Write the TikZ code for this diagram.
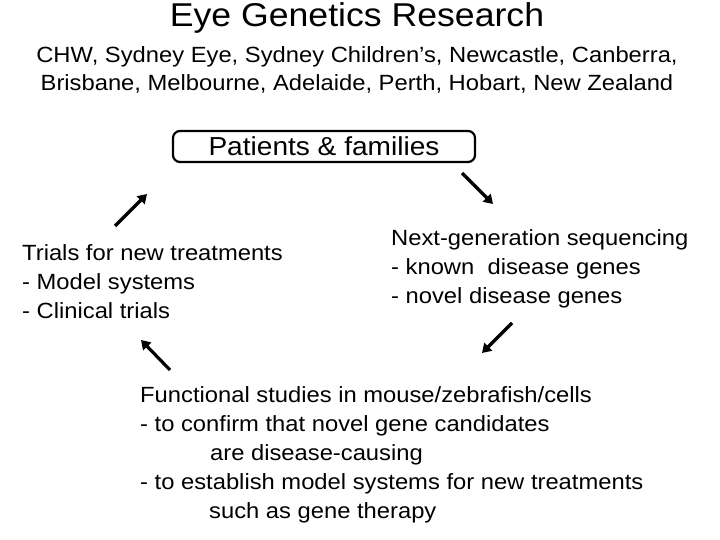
\documentclass[tikz,border=0pt]{standalone}
\usepackage{fontspec}
\setmainfont{Liberation Sans}[FakeStretch=1.08]
\usetikzlibrary{positioning, arrows.meta}

\begin{document}
\begin{tikzpicture}[x=1pt,y=-1pt,
  body/.style={anchor=base west,align=left,inner sep=0pt,font=\fontsize{22}{28.8}\selectfont},
  cycle/.style={line width=3.2pt,-{Triangle[length=9pt,width=11pt]}},
  box/.style={draw,line width=2.2pt,rounded corners=7pt,minimum width=302pt,minimum height=31pt,inner sep=0pt}]

\useasboundingbox (0,0) rectangle (720,540);

% Title (base of the last line)
\node[anchor=base,inner sep=0pt,font=\fontsize{33}{36}\selectfont] (title) at (357,27) {Eye Genetics Research};
\node[anchor=base,align=center,inner sep=0pt,font=\fontsize{22}{28}\selectfont] (centres) at (357,91) {CHW, Sydney Eye, Sydney Children’s, Newcastle, Canberra,\\Brisbane, Melbourne, Adelaide, Perth, Hobart, New Zealand};

% Cycle of steps
\node[box,font=\fontsize{26}{30}\selectfont] (patients) at (324,146.5) {Patients \& families};
\node[body] (sequencing) at (391,303) {Next-generation sequencing\\- known~ disease genes\\- novel disease genes};
\node[body] (functional) at (140,518) {Functional studies in mouse/zebrafish/cells\\- to confirm that novel gene candidates\\\hspace*{70pt}are disease-causing\\- to establish model systems for new treatments\\\hspace*{69pt}such as gene therapy};
\node[body] (trials) at (22,318) {Trials for new treatments\\- Model systems\\- Clinical trials};

% Arrows
\coordinate (patients_out) at (462,173);
\coordinate (sequencing_in) at (493,204);
\coordinate (sequencing_out) at (512,323);
\coordinate (functional_in) at (482,353);
\coordinate (functional_out) at (170,370);
\coordinate (trials_in) at (141,340);
\coordinate (trials_out) at (115,226);
\coordinate (patients_in) at (147,194);
\draw[cycle] (patients_out) -- (sequencing_in);
\draw[cycle] (sequencing_out) -- (functional_in);
\draw[cycle] (functional_out) -- (trials_in);
\draw[cycle] (trials_out) -- (patients_in);
\end{tikzpicture}
\end{document}
